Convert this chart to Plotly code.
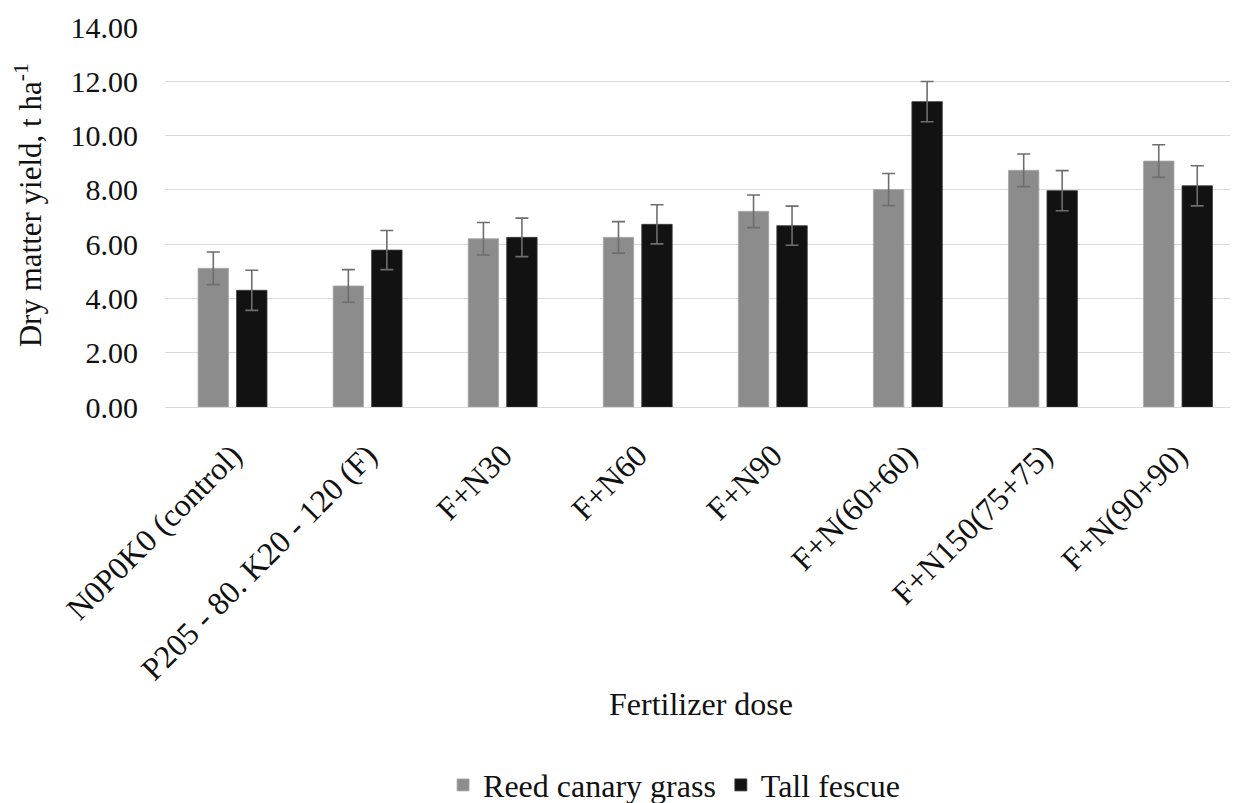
import plotly.graph_objects as go

categories = ["N0P0K0 (control)", "P205 - 80. K20 - 120 (F)", "F+N30", "F+N60",
              "F+N90", "F+N(60+60)", "F+N150(75+75)", "F+N(90+90)"]
reed = [5.11, 4.46, 6.20, 6.25, 7.21, 8.01, 8.72, 9.06]
reed_err = [0.60, 0.60, 0.60, 0.58, 0.60, 0.59, 0.60, 0.60]
fescue = [4.30, 5.78, 6.25, 6.73, 6.68, 11.25, 7.97, 8.15]
fescue_err = [0.74, 0.72, 0.71, 0.72, 0.72, 0.74, 0.74, 0.74]
y_ticks = [0, 2, 4, 6, 8, 10, 12, 14]

FONT = "Liberation Serif"
err_style = dict(type="data", visible=True, color="#6e6e6e", thickness=1.6, width=6.5)

fig = go.Figure()
fig.add_trace(go.Bar(x=categories, y=reed, name="Reed canary grass",
                     marker=dict(color="#8c8c8c", line=dict(color="#a8a8a8", width=0.8)),
                     error_y=dict(array=reed_err, **err_style)))
fig.add_trace(go.Bar(x=categories, y=fescue, name="Tall fescue",
                     marker=dict(color="#121212", line=dict(color="#3a3a3a", width=0.8)),
                     error_y=dict(array=fescue_err, **err_style)))

fig.update_layout(
    width=1234, height=803, autosize=False,
    margin=dict(l=165, r=4, t=27, b=396, autoexpand=False),
    paper_bgcolor="white", plot_bgcolor="white",
    barmode="group", bargap=0.43, bargroupgap=0.21,
    font=dict(family=FONT, size=30, color="#111111"),
    showlegend=True,
    legend=dict(orientation="h", x=0.478, xanchor="center", y=-0.995, yanchor="middle",
                font=dict(family=FONT, size=32, color="#111111"),
                itemwidth=30, tracegroupgap=0, bgcolor="rgba(0,0,0,0)"),
    annotations=[
        dict(text="Fertilizer dose", xref="paper", yref="paper", x=0.503, y=-0.782,
             xanchor="center", yanchor="middle", showarrow=False,
             font=dict(family=FONT, size=32, color="#111111")),
        dict(text="Dry matter yield, t ha<sup>-1</sup>", xref="paper", yref="paper",
             x=-0.128, y=0.53, xanchor="center", yanchor="middle", textangle=-90,
             showarrow=False, font=dict(family=FONT, size=31, color="#111111")),
    ],
)
fig.update_xaxes(range=[-0.5, 7.385], tickangle=-45, showgrid=False, automargin=False,
                 showline=True, linecolor="#d9d9d9", linewidth=1,
                 ticks="", ticklabelstandoff=16,
                 tickfont=dict(family=FONT, size=32, color="#111111"))
fig.update_yaxes(range=[0, 14], tickvals=y_ticks, tickformat=".2f", automargin=False,
                 showgrid=True, gridcolor="#d9d9d9", gridwidth=1,
                 zeroline=False, showline=False, ticks="", ticklabelstandoff=26,
                 tickfont=dict(family=FONT, size=30, color="#111111"))

fig.write_html("out.html")
